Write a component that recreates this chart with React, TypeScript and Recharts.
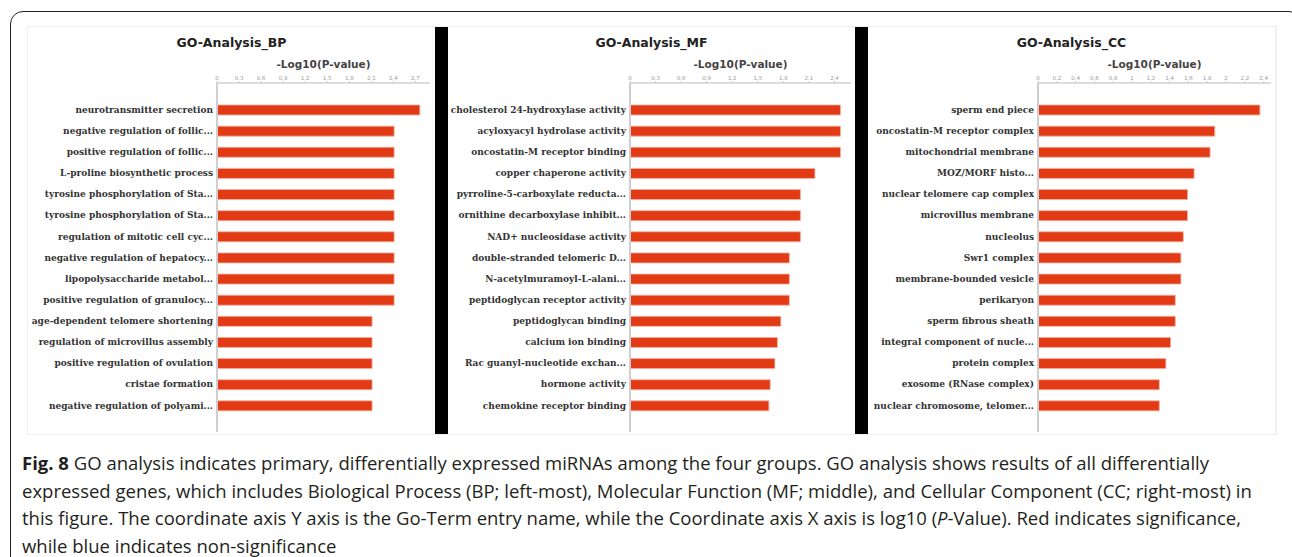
import { Bar, BarChart, XAxis, YAxis } from "recharts"

// GO terms and -log10(P) values
const bpTerms = [
  "neurotransmitter secretion",
  "negative regulation of follic...",
  "positive regulation of follic...",
  "L-proline biosynthetic process",
  "tyrosine phosphorylation of Sta...",
  "tyrosine phosphorylation of Sta...",
  "regulation of mitotic cell cyc...",
  "negative regulation of hepatocy...",
  "lipopolysaccharide metabol...",
  "positive regulation of granulocy...",
  "age-dependent telomere shortening",
  "regulation of microvillus assembly",
  "positive regulation of ovulation",
  "cristae formation",
  "negative regulation of polyami...",
]
const bpValues = [2.76, 2.41, 2.41, 2.41, 2.41, 2.41, 2.41, 2.41, 2.41, 2.41, 2.11, 2.11, 2.11, 2.11, 2.11]
const bpTicks = [0, 0.3, 0.6, 0.9, 1.2, 1.5, 1.8, 2.1, 2.4, 2.7]

const mfTerms = [
  "cholesterol 24-hydroxylase activity",
  "acyloxyacyl hydrolase activity",
  "oncostatin-M receptor binding",
  "copper chaperone activity",
  "pyrroline-5-carboxylate reducta...",
  "ornithine decarboxylase inhibit...",
  "NAD+ nucleosidase activity",
  "double-stranded telomeric D...",
  "N-acetylmuramoyl-L-alani...",
  "peptidoglycan receptor activity",
  "peptidoglycan binding",
  "calcium ion binding",
  "Rac guanyl-nucleotide exchan...",
  "hormone activity",
  "chemokine receptor binding",
]
const mfValues = [2.47, 2.47, 2.47, 2.17, 2.0, 2.0, 2.0, 1.87, 1.87, 1.87, 1.77, 1.73, 1.7, 1.645, 1.63]
const mfTicks = [0, 0.3, 0.6, 0.9, 1.2, 1.5, 1.8, 2.1, 2.4]

const ccTerms = [
  "sperm end piece",
  "oncostatin-M receptor complex",
  "mitochondrial membrane",
  "MOZ/MORF histo...",
  "nuclear telomere cap complex",
  "microvillus membrane",
  "nucleolus",
  "Swr1 complex",
  "membrane-bounded vesicle",
  "perikaryon",
  "sperm fibrous sheath",
  "integral component of nucle...",
  "protein complex",
  "exosome (RNase complex)",
  "nuclear chromosome, telomer...",
]
const ccValues = [2.36, 1.88, 1.83, 1.66, 1.59, 1.59, 1.545, 1.52, 1.52, 1.46, 1.46, 1.41, 1.36, 1.29, 1.29]
const ccTicks = [0, 0.2, 0.4, 0.6, 0.8, 1, 1.2, 1.4, 1.6, 1.8, 2, 2.2, 2.4]

const captionLines = [
  "GO analysis indicates primary, differentially expressed miRNAs among the four groups. GO analysis shows results of all differentially",
  "expressed genes, which includes Biological Process (BP; left-most), Molecular Function (MF; middle), and Cellular Component (CC; right-most) in",
  "this figure. The coordinate axis Y axis is the Go-Term entry name, while the Coordinate axis X axis is log10 (",
  "while blue indicates non-significance",
]

const PANEL_W = 407
const PANEL_H = 407
const PLOT_TOP = 56

// single-line term label (recharts would wrap long ones)
function TermTick({ x, y, payload }: any) {
  return (
    <text
      x={x}
      y={y}
      dy="0.35em"
      textAnchor="end"
      fontSize={9}
      fill="#333"
      fontFamily="DejaVu Serif"
      fontWeight="bold"
    >
      {payload.value}
    </text>
  )
}

function Panel({ left, title, terms, values, ticks, yWidth, right }: any) {
  const data = terms.map((name: string, i: number) => ({ name, value: values[i] }))
  const plotW = PANEL_W - yWidth - right
  return (
    <div style={{ position: "absolute", left, top: 27, width: PANEL_W, height: PANEL_H, background: "#fff" }}>
      <div
        style={{
          position: "absolute",
          left: 0,
          width: PANEL_W,
          top: 8,
          textAlign: "center",
          fontFamily: "DejaVu Sans",
          fontWeight: "bold",
          fontSize: 12.5,
          color: "#222",
        }}
      >
        {title}
      </div>
      <div
        style={{
          position: "absolute",
          left: yWidth,
          width: plotW,
          top: 31,
          textAlign: "center",
          fontFamily: "DejaVu Sans",
          fontWeight: "bold",
          fontSize: 10.5,
          color: "#444",
        }}
      >
        -Log10(P-value)
      </div>
      <BarChart
        width={PANEL_W}
        height={PANEL_H}
        data={data}
        layout="vertical"
        margin={{ top: PLOT_TOP - 10, right, bottom: 2, left: 0 }}
      >
        <XAxis
          type="number"
          orientation="top"
          height={10}
          domain={[0, (max: number) => max * 1.05]}
          ticks={ticks}
          interval={0}
          axisLine={{ stroke: "#dcdcdc", strokeWidth: 2 }}
          tickLine={{ stroke: "#c8c8c8" }}
          tickSize={2}
          tickMargin={1}
          tick={{ fontSize: 5.5, fill: "#9a9a9a", fontFamily: "DejaVu Sans" }}
        />
        <YAxis
          type="category"
          dataKey="name"
          width={yWidth}
          interval={0}
          padding={{ top: 16, bottom: 16 }}
          axisLine={{ stroke: "#cfcfcf", strokeWidth: 2 }}
          tickLine={false}
          tickSize={0}
          tickMargin={4}
          tick={<TermTick />}
        />
        <Bar
          dataKey="value"
          fill="#e33a16"
          stroke="#f4b09f"
          strokeWidth={0.8}
          barSize={10}
          isAnimationActive={false}
        />
      </BarChart>
    </div>
  )
}

export default function App() {
  return (
    <div
      style={{
        position: "absolute",
        left: 0,
        top: 0,
        width: 1292,
        height: 557,
        overflow: "hidden",
        background: "#fff",
      }}
    >
      <div
        style={{
          position: "absolute",
          left: 10,
          top: 11,
          width: 1290,
          height: 620,
          border: "1.5px solid #231f20",
          borderRadius: 13,
        }}
      />
      <div style={{ position: "absolute", left: 27, top: 26, width: 1250, height: 409, background: "#efefef" }} />
      <div style={{ position: "absolute", left: 435, top: 27, width: 13, height: 407, background: "#000" }} />
      <div style={{ position: "absolute", left: 855, top: 27, width: 13, height: 407, background: "#000" }} />
      <Panel left={28} title="GO-Analysis_BP" terms={bpTerms} values={bpValues} ticks={bpTicks} yWidth={189} right={5} />
      <Panel left={448} title="GO-Analysis_MF" terms={mfTerms} values={mfValues} ticks={mfTicks} yWidth={182} right={4} />
      <Panel left={868} title="GO-Analysis_CC" terms={ccTerms} values={ccValues} ticks={ccTicks} yWidth={170} right={4} />
      <div
        style={{
          position: "absolute",
          left: 22,
          top: 449,
          fontFamily: "Open Sans",
          fontSize: 18.5,
          lineHeight: "27.5px",
          color: "#231f20",
          whiteSpace: "nowrap",
        }}
      >
        <div>
          <b>Fig. 8</b> {captionLines[0]}
        </div>
        <div>{captionLines[1]}</div>
        <div>
          {captionLines[2]}
          <i>P</i>-Value). Red indicates significance,
        </div>
        <div>{captionLines[3]}</div>
      </div>
    </div>
  )
}
